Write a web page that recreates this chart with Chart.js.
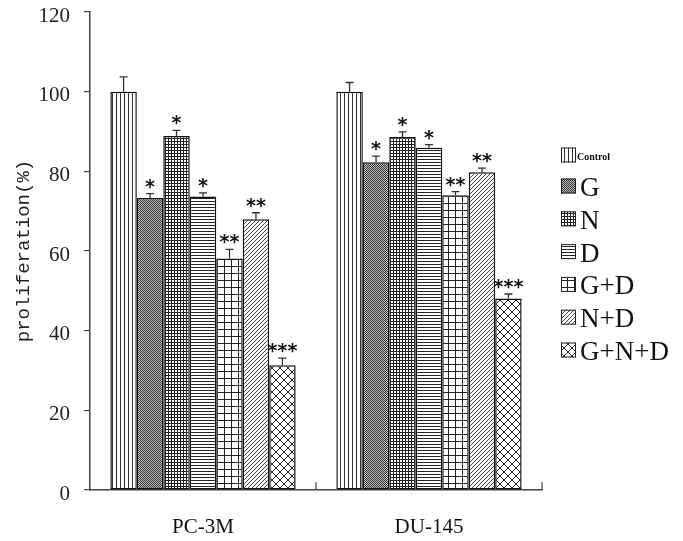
<!DOCTYPE html>
<html>
<head>
<meta charset="utf-8">
<script src="https://cdn.jsdelivr.net/npm/chart.js@4/dist/chart.umd.min.js"></script>
<style>
  html, body { margin: 0; padding: 0; background: #fff; }
  #wrap { width: 683px; height: 541px; }
</style>
</head>
<body>
<div id="wrap"><canvas id="myChart" width="683" height="541"></canvas></div>
<script>
// data
const categories = ['PC-3M', 'DU-145'];
const groups = ['Control', 'G', 'N', 'D', 'G+D', 'N+D', 'G+N+D'];
const pc3m = [100, 73.3, 88.9, 73.7, 58.1, 68.0, 31.3];
const pc3mErr = [3.7, 1.1, 1.4, 0.9, 2.3, 1.6, 1.8];
const du145 = [100, 82.3, 88.6, 85.9, 74.0, 79.8, 48.1];
const du145Err = [2.3, 1.5, 1.3, 0.8, 0.9, 1.0, 1.1];
const pc3mStars = ['', '*', '*', '*', '**', '**', '***'];
const du145Stars = ['', '*', '*', '*', '**', '**', '***'];
const yTicks = [0, 20, 40, 60, 80, 100, 120];

const errs = [pc3mErr, du145Err];
const stars = [pc3mStars, du145Stars];

// hatch fills
function makePattern(kind) {
    let c = document.createElement('canvas');
    let g = c.getContext('2d');
    let s = 3;
    if (kind == 'stipple') s = 2;
    if (kind == 'grid') s = 7;
    if (kind == 'diag') s = 4;
    if (kind == 'cross') s = 8;
    if (kind == 'vert') s = 4;
    c.width = s; c.height = s;
    g.fillStyle = '#fff';
    g.fillRect(0, 0, s, s);
    g.fillStyle = '#222';
    g.strokeStyle = '#222';
    if (kind == 'vert') {
        g.fillStyle = '#333';
        g.fillRect(0, 0, 1, s);
    } else if (kind == 'stipple') {
        g.fillStyle = '#b8b8b8';
        g.fillRect(0, 0, 2, 2);
        g.fillStyle = '#3a3a3a';
        g.fillRect(0, 0, 1, 1);
        g.fillRect(1, 1, 1, 1);
    } else if (kind == 'fine') {
        g.fillRect(0, 0, 1, s);
        g.fillRect(0, 0, s, 1);
    } else if (kind == 'horiz') {
        g.fillRect(0, 0, s, 1);
    } else if (kind == 'grid') {
        g.fillRect(0, 0, 1, s);
        g.fillRect(0, 0, s, 1);
    } else if (kind == 'diag') {
        g.strokeStyle = '#444';
        g.lineWidth = 1;
        g.beginPath();
        g.moveTo(-1, s + 1); g.lineTo(s + 1, -1);
        g.moveTo(-1, 1); g.lineTo(1, -1);
        g.moveTo(s - 1, s + 1); g.lineTo(s + 1, s - 1);
        g.stroke();
    } else if (kind == 'cross') {
        g.lineWidth = 1;
        g.beginPath();
        g.moveTo(0, 0); g.lineTo(s, s);
        g.moveTo(s, 0); g.lineTo(0, s);
        g.stroke();
    }
    return g.createPattern(c, 'repeat');
}

const fills = ['vert', 'stipple', 'fine', 'horiz', 'grid', 'diag', 'cross'].map(makePattern);

const datasets = groups.map((name, i) => ({
    label: name,
    data: [pc3m[i], du145[i]],
    backgroundColor: fills[i],
    borderColor: '#111',
    borderWidth: 1.5,
    borderSkipped: false
}));

// error bars, asterisks, inner x ticks and the legend
const extras = {
    id: 'extras',
    afterDatasetsDraw(chart) {
        const ctx = chart.ctx;
        const y = chart.scales.y;
        const x = chart.scales.x;
        ctx.save();
        chart.data.datasets.forEach((ds, i) => {
            chart.getDatasetMeta(i).data.forEach((bar, j) => {
                let top = y.getPixelForValue(ds.data[j] + errs[j][i]);
                ctx.strokeStyle = '#333';
                ctx.lineWidth = 1.3;
                ctx.beginPath();
                ctx.moveTo(bar.x, bar.y);
                ctx.lineTo(bar.x, top);
                ctx.moveTo(bar.x - 4, top);
                ctx.lineTo(bar.x + 4, top);
                ctx.stroke();
                if (stars[j][i]) {
                    ctx.fillStyle = '#111';
                    ctx.font = 'bold 19px "DejaVu Sans"';
                    ctx.textAlign = 'center';
                    ctx.textBaseline = 'alphabetic';
                    ctx.fillText(stars[j][i], bar.x, top - 1);
                }
            });
        });
        // small upward ticks between categories
        let half = (x.getPixelForValue(1) - x.getPixelForValue(0)) / 2;
        ctx.strokeStyle = '#444';
        ctx.lineWidth = 1.2;
        ctx.beginPath();
        categories.forEach((c, j) => {
            let px = x.getPixelForValue(j) + half;
            ctx.moveTo(px, y.bottom);
            ctx.lineTo(px, y.bottom - 8);
        });
        ctx.stroke();

        // legend
        let lx = chart.chartArea.right + 19;
        groups.forEach((name, i) => {
            let cy = i == 0 ? 155 : 186 + (i - 1) * 32.8;
            ctx.fillStyle = fills[i];
            ctx.fillRect(lx, cy - 7.5, 15, 15);
            ctx.strokeStyle = '#222';
            ctx.lineWidth = 1;
            ctx.strokeRect(lx + 0.5, cy - 7, 14, 14);
            ctx.fillStyle = '#111';
            ctx.textAlign = 'left';
            ctx.textBaseline = 'alphabetic';
            if (i == 0) {
                ctx.font = 'bold 10px "Liberation Serif"';
                ctx.fillText(name, lx + 16, cy + 5);
            } else {
                ctx.font = '27px "Liberation Serif"';
                ctx.fillText(name, lx + 19, cy + 10);
            }
        });
        ctx.restore();
    }
};

const myChart = new Chart(document.getElementById('myChart'), {
    type: 'bar',
    data: { labels: categories, datasets: datasets },
    options: {
        responsive: false,
        animation: false,
        layout: { padding: { top: 12, right: 141, left: 0, bottom: 0 } },
        datasets: { bar: { barPercentage: 1, categoryPercentage: 0.82 } },
        plugins: { legend: { display: false }, tooltip: { enabled: false } },
        scales: {
            x: {
                afterFit(s) { s.height = 51; },
                grid: { display: false },
                border: { display: true, color: '#444', width: 1.5 },
                ticks: {
                    color: '#111',
                    padding: 17,
                    font: { family: 'Liberation Serif', size: 21 }
                }
            },
            y: {
                min: 0,
                max: 120,
                afterFit(s) { s.width = 90; s.paddingTop = 0; s.paddingBottom = 0; },
                afterBuildTicks(s) { s.ticks = yTicks.map(v => ({ value: v })); },
                grid: { drawOnChartArea: false, drawTicks: true, tickLength: 6, color: '#444', lineWidth: 1.2 },
                border: { display: true, color: '#444', width: 1.5 },
                ticks: {
                    color: '#222',
                    padding: 14,
                    labelOffset: 4,
                    font: { family: 'Liberation Serif', size: 21 }
                },
                title: {
                    display: true,
                    text: 'proliferation(%)',
                    color: '#222',
                    padding: { top: 13, bottom: 0 },
                    font: { family: 'Liberation Mono', size: 19 }
                }
            }
        }
    },
    plugins: [extras]
});
</script>
</body>
</html>
